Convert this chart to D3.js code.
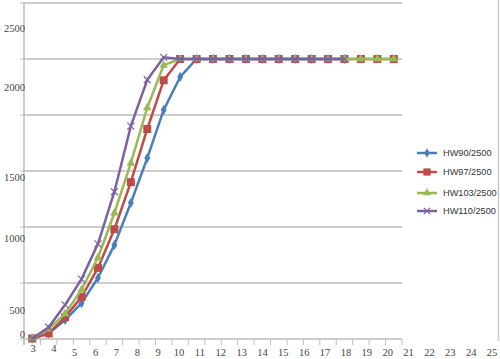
<!DOCTYPE html>
<html><head><meta charset="utf-8">
<script src="https://cdn.jsdelivr.net/npm/d3@7"></script>
<style>body{margin:0;background:#fff}svg{display:block}</style>
</head><body><svg id="c" width="500" height="359"></svg>
<script>
const categories = [3,4,5,6,7,8,9,10,11,12,13,14,15,16,17,18,19,20,21,22,23,24,25];
const hw90  = [5,50,170,320,545,840,1215,1615,2045,2340,2500,2500,2500,2500,2500,2500,2500,2500,2500,2500];
const hw97  = [5,50,195,375,635,980,1400,1875,2310,2500,2500,2500,2500,2500,2500,2500,2500,2500,2500,2500,2500,2500,2500];
const hw103 = [5,90,225,440,725,1125,1570,2065,2445,2500,2500,2500,2500,2500,2500,2500,2500,2500,2500,2500,2500,2500,2500];
const hw110 = [5,105,305,535,850,1315,1900,2315,2515,2500,2500,2500,2500,2500,2500,2500,2500,2500,2500,2500];
const seriesNames = ["HW90/2500","HW97/2500","HW103/2500","HW110/2500"];
const yTicks = [0,500,1000,1500,2000,2500];
const gridTicks = [500,1000,1500,2000,2500,3000];

const colors = ["#4a7ebb","#be4b48","#98b954","#7d60a0"];
const symbols = ["diamond","square","triangle","x"];
const series = [hw90,hw97,hw103,hw110].map((v,i)=>({name:seriesNames[i],values:v,color:colors[i],sym:symbols[i]}));

const svg = d3.select("#c");
const x = d3.scaleBand().domain(d3.range(categories.length)).range([24,402]);
const y = d3.scaleLinear().domain([0,3000]).range([339,3]);
// label placement as seen in the picture (labels are offset from ticks)
const xLab = d3.scalePoint().domain(categories).range([33,492]);
const yLab = d3.scaleLinear().domain(yTicks).range([334,310,238,177,87,28]);

// right border
svg.append("line").attr("x1",498.5).attr("x2",498.5).attr("y1",0).attr("y2",341).attr("stroke","#c8c8c8").attr("stroke-width",1.5);

// gridlines
svg.append("g").selectAll("line").data(gridTicks).join("line")
  .attr("x1",24).attr("x2",402).attr("y1",d=>y(d)).attr("y2",d=>y(d))
  .attr("stroke","#bdbdbd").attr("stroke-width",1.5);

// y axis line + ticks
svg.append("line").attr("x1",24).attr("x2",24).attr("y1",2).attr("y2",345).attr("stroke","#bdbdbd").attr("stroke-width",1.5);
svg.append("g").selectAll("line").data([0].concat(gridTicks)).join("line")
  .attr("x1",20).attr("x2",24).attr("y1",d=>y(d)).attr("y2",d=>y(d)).attr("stroke","#bdbdbd");
// x axis line + ticks
svg.append("line").attr("x1",24).attr("x2",402).attr("y1",339).attr("y2",339).attr("stroke","#bdbdbd").attr("stroke-width",1.5);
svg.append("g").selectAll("line").data(d3.range(categories.length+1)).join("line")
  .attr("x1",d=>24+d*x.step()).attr("x2",d=>24+d*x.step()).attr("y1",339).attr("y2",345).attr("stroke","#bdbdbd");

// y labels
svg.append("g").selectAll("text").data(yTicks).join("text")
  .attr("x",25).attr("y",d=>yLab(d)).attr("dy","0.35em").attr("text-anchor","end")
  .attr("font-family","Liberation Serif, Times New Roman, serif").attr("font-size",10.5).attr("fill","#444")
  .text(d=>d);
// x labels
svg.append("g").selectAll("text").data(categories).join("text")
  .attr("x",d=>xLab(d)).attr("y",(d,i)=> i<2 ? 348 : 352).attr("dy","0.35em").attr("text-anchor","middle")
  .attr("font-family","Liberation Serif, Times New Roman, serif").attr("font-size",10.5).attr("fill","#444")
  .text(d=>d);

function marker(g, s, cx, cy, scale){
  scale = scale||1;
  if(s.sym==="diamond"){
    g.append("path").attr("d",d3.symbol(d3.symbolDiamond, 30*scale)()).attr("transform",`translate(${cx},${cy})`).attr("fill",s.color);
  } else if(s.sym==="square"){
    g.append("rect").attr("x",cx-4*scale).attr("y",cy-4*scale).attr("width",8*scale).attr("height",8*scale).attr("fill",s.color);
  } else if(s.sym==="triangle"){
    g.append("path").attr("d",d3.symbol(d3.symbolTriangle, 32*scale)()).attr("transform",`translate(${cx},${cy})`).attr("fill",s.color);
  } else {
    const r=3.5*scale;
    g.append("path").attr("d",`M${cx-r},${cy-r}L${cx+r},${cy+r}M${cx-r},${cy+r}L${cx+r},${cy-r}`).attr("stroke",s.color).attr("stroke-width",1.2);
  }
}

const line = d3.line().x((d,i)=>x(i)+x.bandwidth()/2).y(d=>y(d));
series.forEach(s=>{
  const g = svg.append("g");
  g.append("path").attr("d",line(s.values)).attr("fill","none").attr("stroke",s.color).attr("stroke-width",2.5);
  s.values.forEach((v,i)=>marker(g,s,x(i)+x.bandwidth()/2,y(v)));
});

// legend
const legY = [153,172,193,211];
series.forEach((s,i)=>{
  const g = svg.append("g");
  g.append("line").attr("x1",417).attr("x2",437).attr("y1",legY[i]).attr("y2",legY[i]).attr("stroke",s.color).attr("stroke-width",2.5);
  marker(g,s,427,legY[i],0.9);
  g.append("text").attr("x",443).attr("y",legY[i]).attr("dy","0.35em")
    .attr("font-family","Liberation Sans, Arial, sans-serif").attr("font-size",9.2).attr("fill","#333").text(s.name);
});
</script></body></html>
